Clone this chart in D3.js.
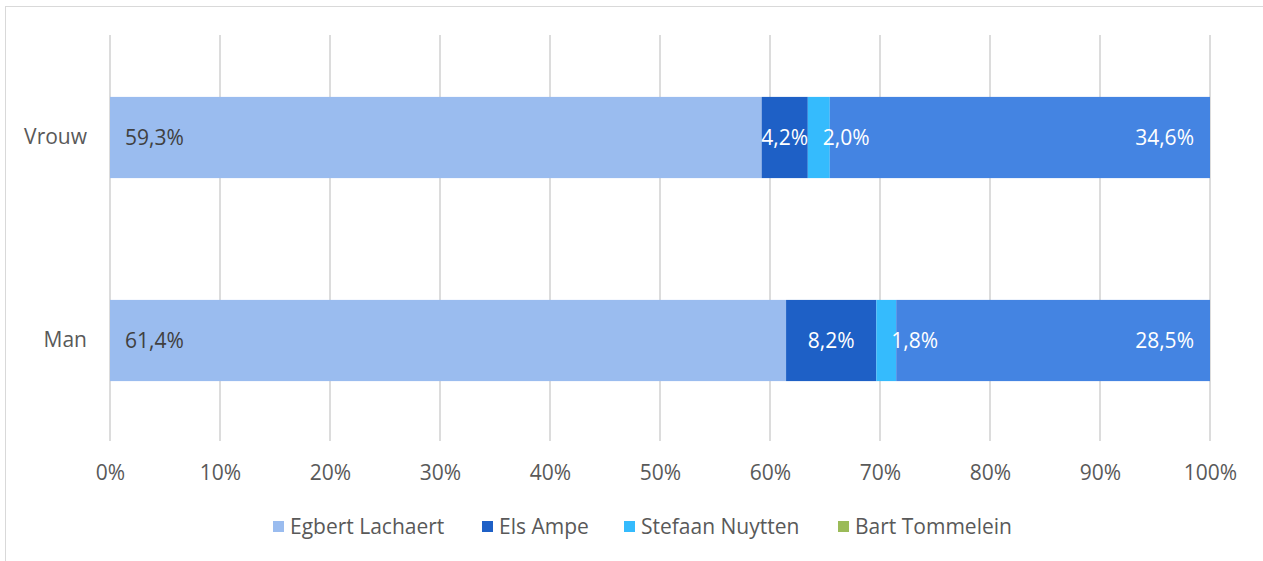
<!DOCTYPE html>
<html>
<head>
<meta charset="utf-8">
<style>
  body { margin: 0; background: #fff; }
  svg text { font-family: "Open Sans", sans-serif; }
</style>
<title>Stemgedrag</title>
</head>
<body>
<script src="https://cdn.jsdelivr.net/npm/d3@7"></script>
<script>

var categories = ["Vrouw", "Man"];
var seriesNames = ["Egbert Lachaert", "Els Ampe", "Stefaan Nuytten", "Bart Tommelein"];
var vrouwValues = [59.3, 4.2, 2.0, 34.6];
var manValues = [61.4, 8.2, 1.8, 28.5];
var xTicks = [0, 10, 20, 30, 40, 50, 60, 70, 80, 90, 100];

var barColors = ["#9abcef", "#1e60c6", "#35bbfd", "#4484e2"];
var legendColors = ["#9abcef", "#1e60c6", "#35bbfd", "#9bbb59"];
var labelPos = ["base", "center", "base", "end"];
var labelColors = ["#404040", "#fff", "#fff", "#fff"];

var fontSize = "21px";
var width = 1263, height = 561;
var margin = {top: 35, right: 53, bottom: 120, left: 110};
var innerW = width - margin.left - margin.right,
    innerH = 406;

var svg = d3.select("body").append("svg")
  .attr("width", width)
  .attr("height", height);

// chart border
svg.append("rect")
  .attr("x", 5.5).attr("y", 6.5)
  .attr("width", 1300).attr("height", 600)
  .attr("fill", "none").attr("stroke", "#d9d9d9");

var g = svg.append("g").attr("transform", "translate(" + margin.left + "," + margin.top + ")");

var x = d3.scaleLinear().domain([0, 100]).range([0, innerW]);
var y = d3.scaleBand().domain(categories).range([1, innerH + 1]).paddingInner(0.6).paddingOuter(0.3);

// gridlines
g.selectAll(".grid")
  .data(xTicks)
  .enter().append("line")
  .attr("x1", function(d) { return x(d); })
  .attr("x2", function(d) { return x(d); })
  .attr("y1", 0).attr("y2", innerH)
  .attr("stroke", "#dcdcdc").attr("stroke-width", 2);

// axis labels
var xAxis = g.append("g")
  .attr("transform", "translate(0," + innerH + ")")
  .call(d3.axisBottom(x).tickValues(xTicks).tickSize(0).tickPadding(24).tickFormat(function(d) { return d + "%"; }));
xAxis.select(".domain").remove();
xAxis.selectAll("text").attr("fill", "#595959").style("font-size", fontSize);

var yAxis = g.append("g")
  .call(d3.axisLeft(y).tickSize(0).tickPadding(23));
yAxis.select(".domain").remove();
yAxis.selectAll("text").attr("fill", "#595959").style("font-size", fontSize);

// stacked rows, normalised to 100%
var rows = [vrouwValues, manValues];
rows.forEach(function(vals, ri) {
  var total = d3.sum(vals);
  var cum = 0;
  var segs = vals.map(function(v, i) {
    var s = {start: cum / total * 100, end: (cum + v) / total * 100, value: v, i: i};
    cum += v;
    return s;
  });
  var cat = categories[ri];
  var row = g.append("g");
  row.selectAll("rect")
    .data(segs)
    .enter().append("rect")
    .attr("x", function(d) { return x(d.start); })
    .attr("y", y(cat))
    .attr("width", function(d) { return x(d.end) - x(d.start); })
    .attr("height", y.bandwidth())
    .attr("fill", function(d) { return barColors[d.i]; });

  row.selectAll("text")
    .data(segs)
    .enter().append("text")
    .attr("x", function(d) {
      if (labelPos[d.i] == "base") return x(d.start) + 15;
      if (labelPos[d.i] == "end") return x(d.end) - 16;
      return (x(d.start) + x(d.end)) / 2;
    })
    .attr("y", y(cat) + y.bandwidth() / 2)
    .attr("dy", "0.35em")
    .attr("text-anchor", function(d) {
      if (labelPos[d.i] == "base") return "start";
      if (labelPos[d.i] == "end") return "end";
      return "middle";
    })
    .attr("fill", function(d) { return labelColors[d.i]; })
    .style("font-size", fontSize)
    .text(function(d) { return d3.format(".1f")(d.value).replace(".", ",") + "%"; });
});

// legend
var legendX = [273, 482, 624, 838];
var legend = svg.append("g").attr("transform", "translate(0,521)")
  .selectAll("g")
  .data(seriesNames)
  .enter().append("g")
  .attr("transform", function(d, i) { return "translate(" + legendX[i] + ",0)"; });

legend.append("rect")
  .attr("width", 11).attr("height", 11)
  .attr("fill", function(d, i) { return legendColors[i]; });

legend.append("text")
  .attr("x", 17).attr("y", 6)
  .attr("dy", "0.35em")
  .attr("fill", "#595959")
  .style("font-size", fontSize)
  .text(function(d) { return d; });

</script>
</body>
</html>
